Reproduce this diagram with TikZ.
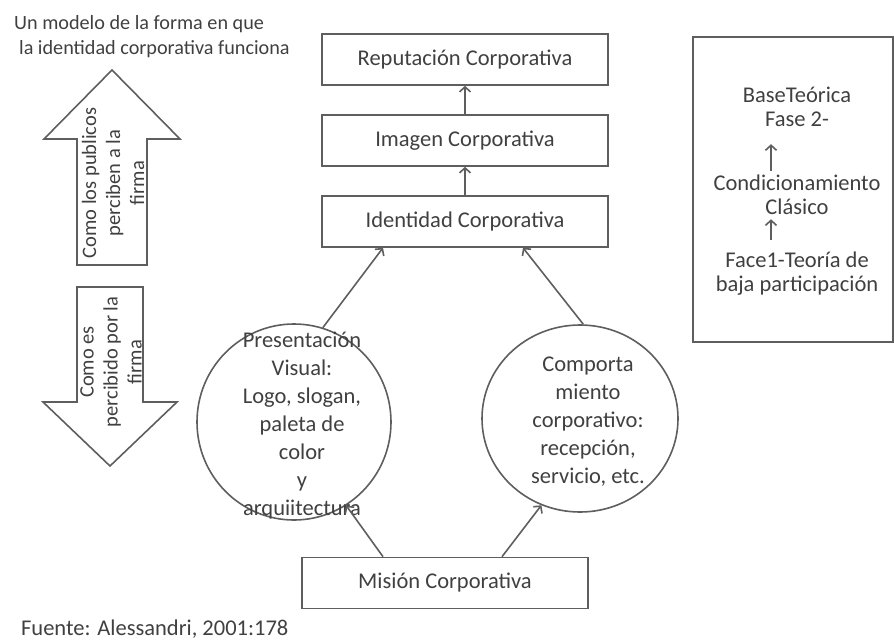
\documentclass[tikz,border=0pt]{standalone}
\usepackage{fontspec}
\setmainfont{Carlito}
\usetikzlibrary{shapes, arrows, arrows.meta, calc}

\definecolor{txtgray}{HTML}{404040}
\definecolor{linegray}{HTML}{5E5E5E}

\begin{document}
\begin{tikzpicture}[x=1pt,y=-1pt,>={Straight Barb[length=5pt,width=11pt]},node distance=81pt,
      line width=1.6pt,color=linegray,text=txtgray,
      main node/.style={rectangle,draw,minimum width=286pt,minimum height=51pt,font=\fontsize{22.5}{27}\selectfont},
      oval node/.style={ellipse,draw,inner sep=0pt},
      oval text/.style={align=center,font=\fontsize{22.5}{28}\selectfont},
      theory text/.style={align=center,font=\fontsize{22.5}{24.5}\selectfont},
      side text/.style={align=center,rotate=90,font=\fontsize{20.5}{24}\selectfont},
      other node/.style={align=left,font=\fontsize{20.2}{25}\selectfont}]

    \useasboundingbox (0,0) rectangle (894,640);

    \node[other node,anchor=north west] (title) at (10,11) {Un modelo de la forma en que\\\hspace*{5pt}la identidad corporativa funciona};

    % cadena central
    \node[main node] (rep) at (465,59.5) {Reputación Corporativa};
    \node[main node] (img) [below of=rep] {Imagen Corporativa};
    \node[main node] (ident) [below of=img] {Identidad Corporativa};
    \node[main node] (mision) at (445,583) {Misión Corporativa};

    \node[oval node,minimum width=194pt,minimum height=196pt] (visual) at (294,422) {};
    \node[oval text] (visualtxt) at (302,426) {Presentación\\Visual:\\Logo, slogan,\\paleta de\\color\\y\\arquiitectura};
    \node[oval node,minimum width=196pt,minimum height=187pt] (comport) at (580,418.5) {};
    \node[oval text] (comporttxt) at (588,422) {Comporta\\miento\\corporativo:\\recepción,\\servicio, etc.};

    \path[->]
        (img) edge (rep)
        (ident) edge (img)
        (visual.73) edge ($(ident.south)+(-82,0)$)
        (comport.88) edge ($(ident.south)+(58,0)$)
        ($(mision.north)+(-62,0)$) edge (visual.-58)
        ($(mision.north)+(57,0)$) edge (comport.-114)
    ;

    % recuadro teoria
    \node[main node,minimum width=200pt,minimum height=305pt] (teoria) at (793,189.5) {};
    \node[theory text] (base) at (797,107) {BaseTeórica\\Fase 2-};
    \node[theory text] (cond) at (797,195) {Condicionamiento\\Clásico};
    \node[theory text] (face) at (797,273.5) {Face1-Teoría de\\baja participación};
    \coordinate (ax) at (771,0);
    \path[->]
        (cond.north -| ax) edge[shorten >=13pt] (base.south -| ax)
        (face.north -| ax) edge[shorten <=7pt] (cond.south -| ax)
    ;

    % flechas de bloque
    \draw (77,265) -- (77,139) -- (44,139) -- (112,70) -- (180,139) -- (147,139) -- (147,265) -- cycle;
    \node[side text] (publicos) at (113,183) {Como los publicos\\perciben a la\\firma};
    \draw (77,287) -- (77,402) -- (43,402) -- (110,466) -- (177,402) -- (143,402) -- (143,287) -- cycle;
    \node[side text] (percibido) at (111,362) {Como es\\percibido por la\\firma};

    \node[other node,font=\fontsize{22.5}{27}\selectfont,anchor=base west] (fuente) at (17,635) {Fuente: Alessandri, 2001:178};
\end{tikzpicture}
\end{document}
